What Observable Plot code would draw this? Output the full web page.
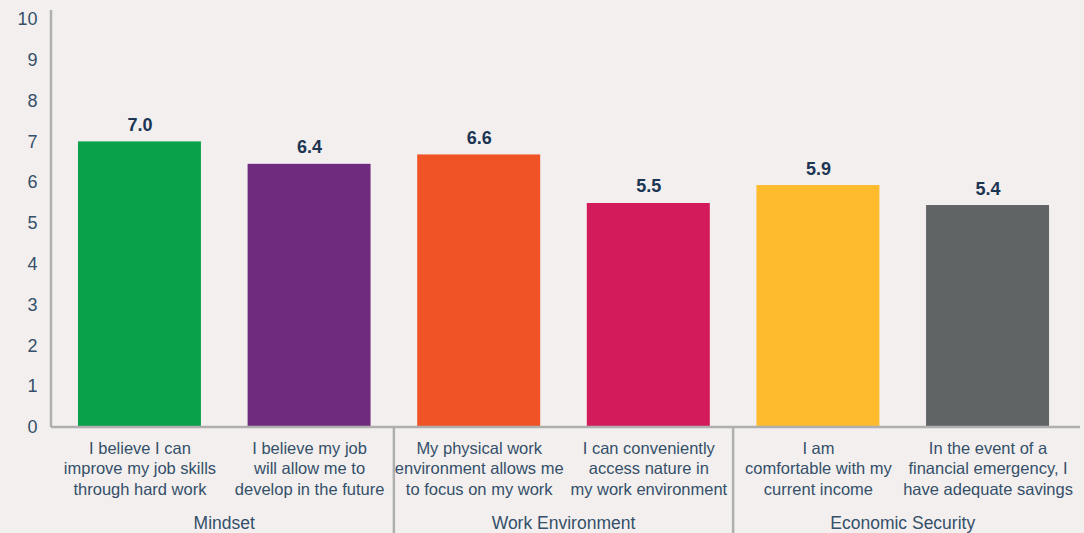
<!DOCTYPE html>
<html>
<head>
<meta charset="utf-8">
<script src="https://cdn.jsdelivr.net/npm/d3@7"></script>
<script src="https://cdn.jsdelivr.net/npm/@observablehq/plot@0.6"></script>
<style>
  html, body { margin: 0; padding: 0; background: #f3efee; }
  #chart svg { display: block; }
</style>
</head>
<body>
<div id="chart"></div>
<script>
const categories = [
  "I believe I can\nimprove my job skills\nthrough hard work",
  "I believe my job\nwill allow me to\ndevelop in the future",
  "My physical work\nenvironment allows me\nto focus on my work",
  "I can conveniently\naccess nature in\nmy work environment",
  "I am\ncomfortable with my\ncurrent income",
  "In the event of a\nfinancial emergency, I\nhave adequate savings"
];
const groups = ["Mindset", "Mindset", "Work Environment", "Work Environment", "Economic Security", "Economic Security"];
const values = [7.0, 6.45, 6.68, 5.49, 5.93, 5.44];
const valueLabels = ["7.0", "6.4", "6.6", "5.5", "5.9", "5.4"];
const colors = ["#0aa14b", "#6f2c7e", "#f05325", "#d31b5b", "#fdbb2d", "#606465"];
const yTicks = [0, 1, 2, 3, 4, 5, 6, 7, 8, 9, 10];

const data = categories.map((c, i) => ({cat: c, group: groups[i], value: values[i], label: valueLabels[i]}));

const axisColor = "#afafaf";
const textColor = "#34506a";
const fontFamily = "'Liberation Sans', Arial, Helvetica, sans-serif";

function decorations(index, scales, values, dimensions) {
  const {width, height, marginLeft, marginRight, marginTop, marginBottom} = dimensions;
  const x = scales.x;
  const bw = x.bandwidth ? x.bandwidth() : 0;
  const step = x.step ? x.step() : 0;
  const g = d3.create("svg:g");
  const base = height - marginBottom;
  // left axis line
  g.append("line").attr("x1", marginLeft).attr("x2", marginLeft)
    .attr("y1", marginTop).attr("y2", base)
    .attr("stroke", axisColor).attr("stroke-width", 2.5);
  // bottom axis line (runs a little past the plot frame, as in the original)
  g.append("line").attr("x1", marginLeft).attr("x2", width - marginRight / 2)
    .attr("y1", base).attr("y2", base)
    .attr("stroke", axisColor).attr("stroke-width", 2.5);
  // group separators & labels
  const groupNames = Array.from(new Set(groups));
  groupNames.forEach((name, gi) => {
    const members = categories.filter((c, i) => groups[i] === name);
    const centers = members.map(c => x(c) + bw / 2);
    const cx = d3.mean(centers);
    g.append("text").attr("x", cx).attr("y", height - 4)
      .attr("text-anchor", "middle")
      .attr("font-size", 17.5)
      .attr("font-family", fontFamily)
      .attr("fill", textColor)
      .text(name);
    if (gi > 0) {
      const sx = x(members[0]) - (step - bw) / 2;
      g.append("line").attr("x1", sx).attr("x2", sx)
        .attr("y1", base).attr("y2", height)
        .attr("stroke", axisColor).attr("stroke-width", 2.5);
    }
  });
  return g.node();
}

const chart = Plot.plot({
  width: 1084,
  height: 533,
  marginLeft: 51,
  marginRight: 8,
  marginTop: 10,
  marginBottom: 106,
  style: {background: "#f3efee", fontFamily: fontFamily, color: textColor},
  x: {domain: categories, paddingInner: 0.275, paddingOuter: 0.159, round: false, axis: null},
  y: {domain: [0, 10.22], axis: null},
  color: {domain: categories, range: colors},
  marks: [
    Plot.barY(data, {x: "cat", y: "value", fill: "cat"}),
    Plot.text(yTicks, {y: d => d, text: d => String(d), frameAnchor: "left", textAnchor: "end", dx: -14, fontSize: 18, fill: textColor}),
    Plot.text(data, {x: "cat", y: "value", text: "label", dy: -11, lineAnchor: "bottom", fontSize: 18, fontWeight: "bold", fill: "#1c3553"}),
    Plot.text(data, {x: "cat", text: "cat", frameAnchor: "bottom", lineAnchor: "top", dy: 12, fontSize: 16.5, lineHeight: 1.24, fill: textColor}),
    decorations
  ]
});
document.getElementById("chart").appendChild(chart);
</script>
</body>
</html>
